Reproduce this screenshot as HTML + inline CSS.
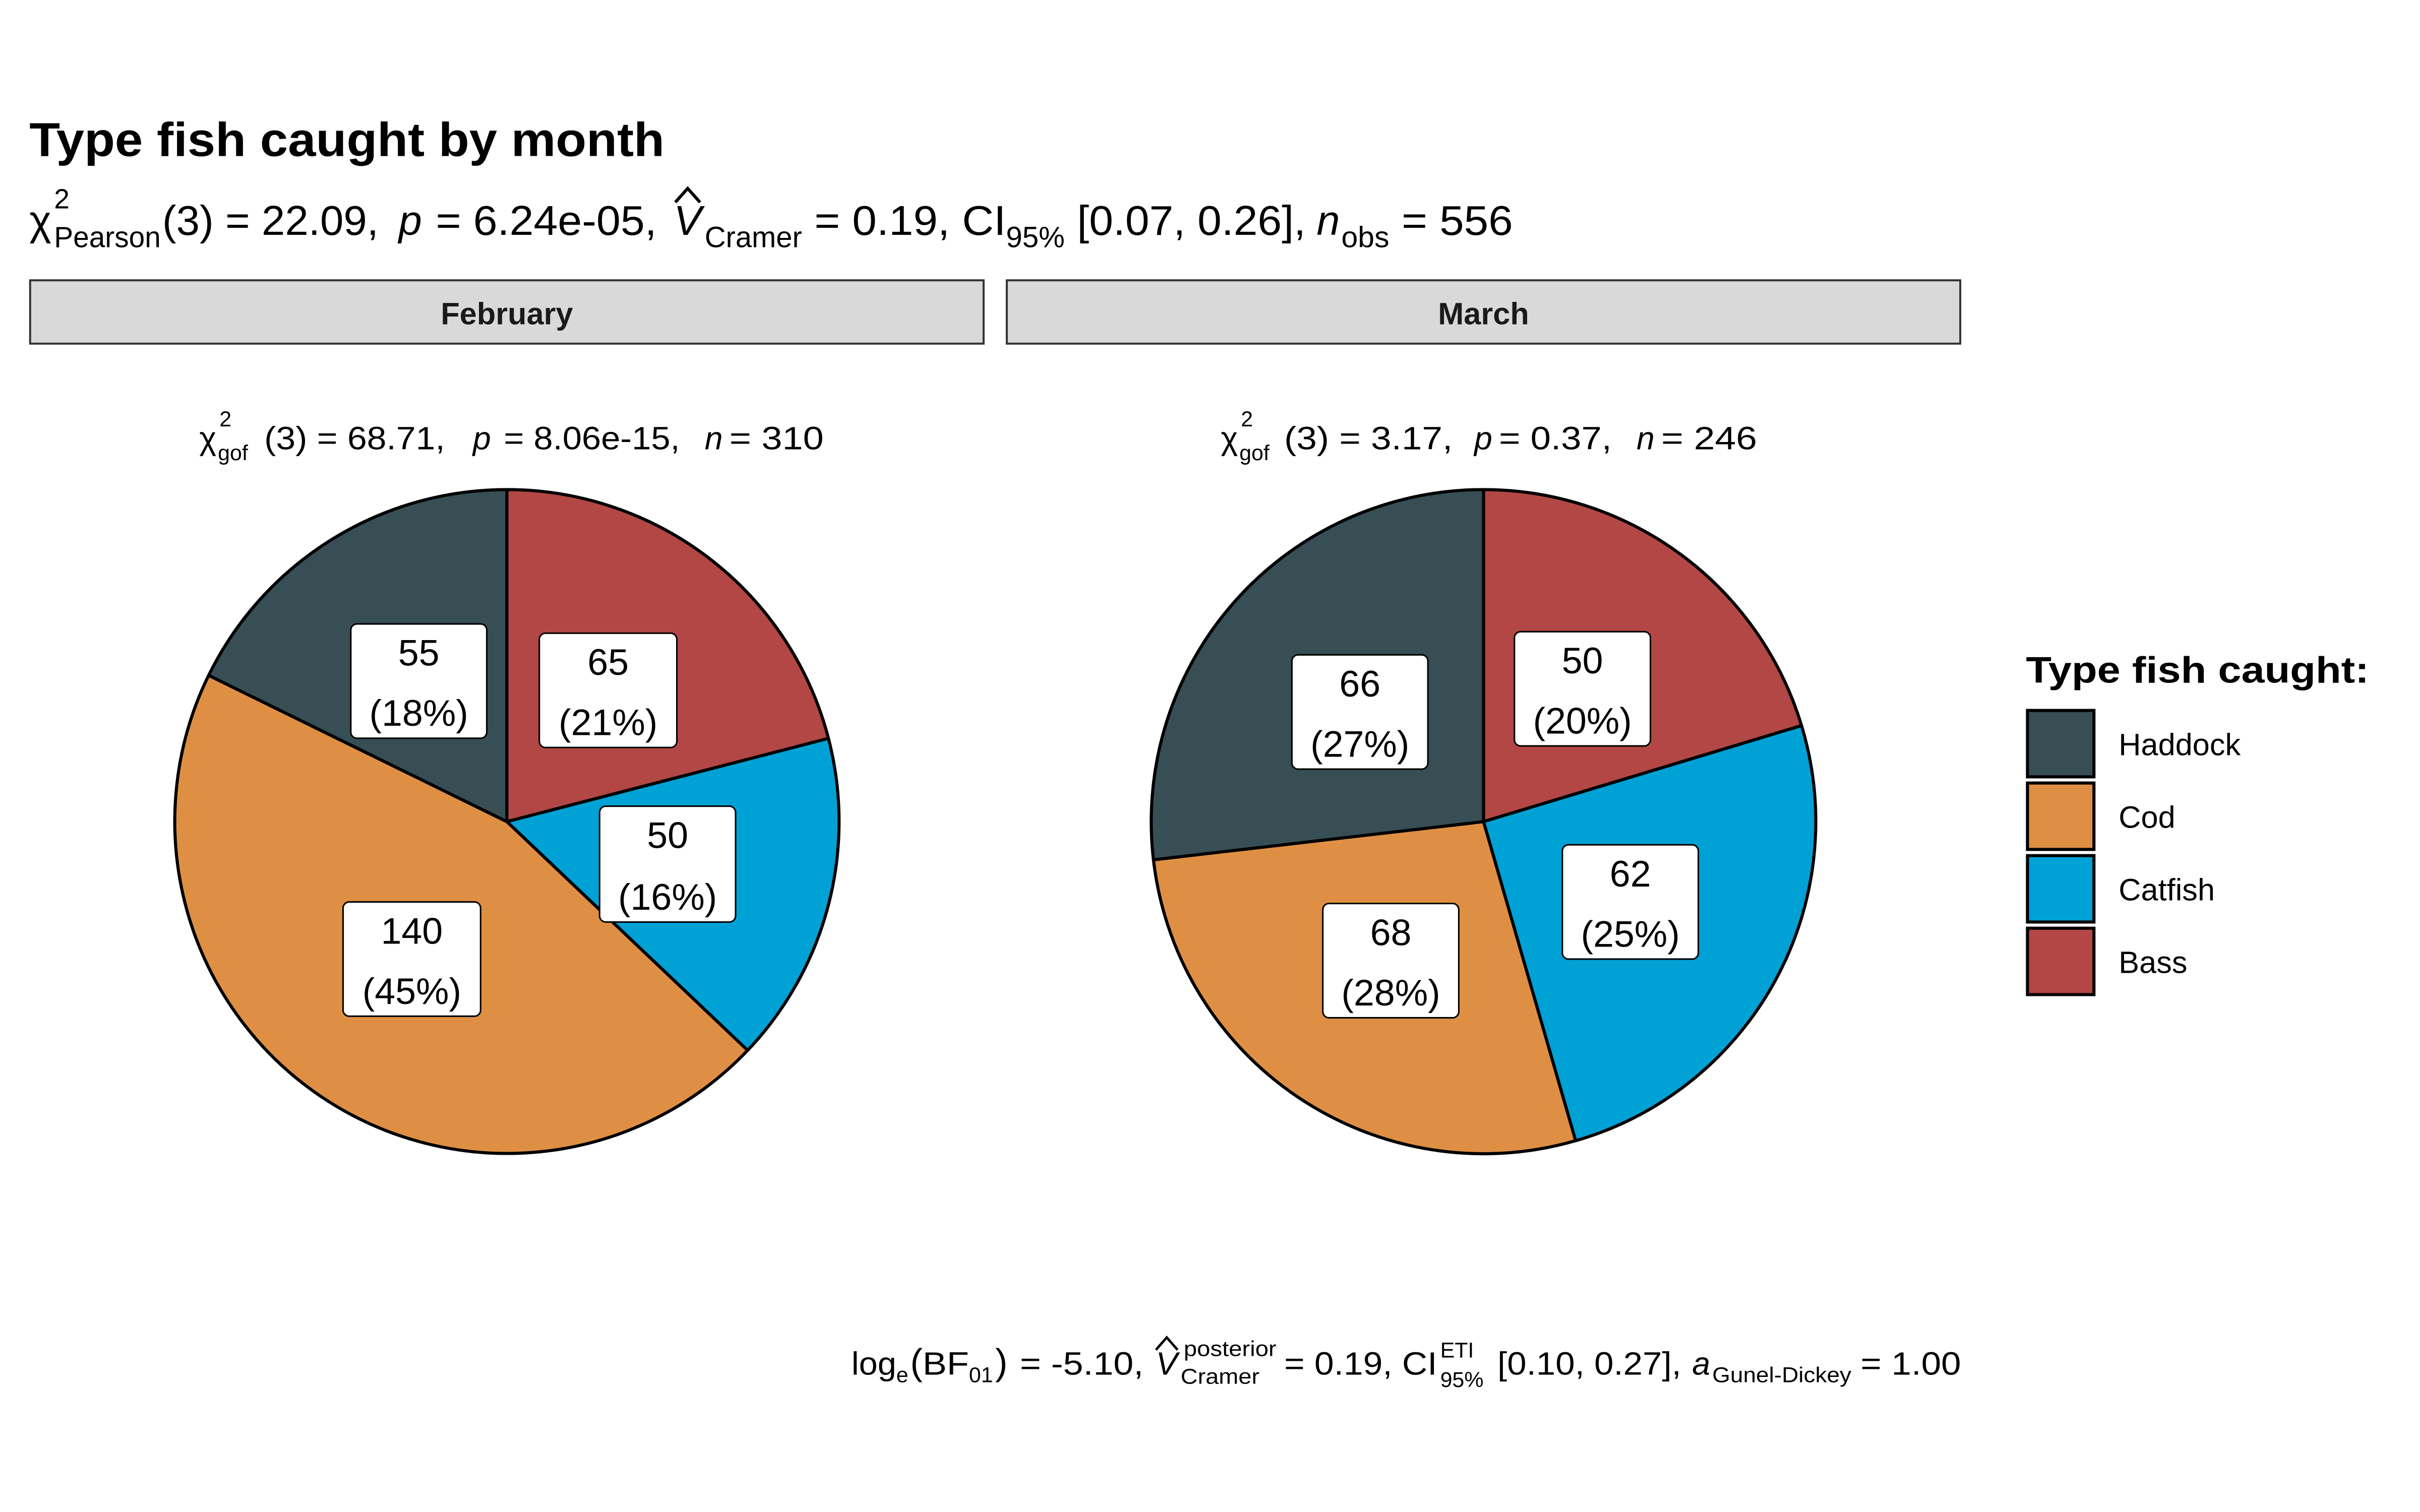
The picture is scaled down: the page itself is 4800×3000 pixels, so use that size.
<!DOCTYPE html>
<html><head><meta charset="utf-8"><style>html,body{margin:0;padding:0;background:#fff}svg{display:block}</style></head>
<body>
<svg width="4800" height="3000" viewBox="0 0 1566 979" preserveAspectRatio="none" xmlns="http://www.w3.org/2000/svg" font-family="Liberation Sans, Arial, sans-serif">
<rect width="1566" height="979" fill="#fff"/>
<text x="19" y="101" font-size="31" font-weight="bold" textLength="411" lengthAdjust="spacingAndGlyphs">Type fish caught by month</text>

<g font-size="27">
<text x="19" y="152">χ</text>
<text x="35" y="135" font-size="18">2</text>
<text x="35" y="160" font-size="19" textLength="69" lengthAdjust="spacingAndGlyphs">Pearson</text>
<text x="105" y="152" textLength="140" lengthAdjust="spacingAndGlyphs">(3) = 22.09,</text>
<text x="258" y="152" font-style="italic">p</text>
<text x="282" y="152" textLength="143" lengthAdjust="spacingAndGlyphs">= 6.24e-05,</text>
<text x="436" y="152" font-style="italic">V</text>
<text x="456" y="160" font-size="19" textLength="63" lengthAdjust="spacingAndGlyphs">Cramer</text>
<text x="527" y="152" textLength="124" lengthAdjust="spacingAndGlyphs">= 0.19, CI</text>
<text x="651" y="160" font-size="19" textLength="38" lengthAdjust="spacingAndGlyphs">95%</text>
<text x="697" y="152" textLength="148" lengthAdjust="spacingAndGlyphs">[0.07, 0.26],</text>
<text x="852" y="152" font-style="italic">n</text>
<text x="868" y="160" font-size="19" textLength="31" lengthAdjust="spacingAndGlyphs">obs</text>
<text x="907" y="152" textLength="72" lengthAdjust="spacingAndGlyphs">= 556</text>
</g>
<path d="M437 131 L445 122 L453 131" fill="none" stroke="#000" stroke-width="2"/>

<rect x="19.5" y="181.5" width="617" height="41" fill="#d9d9d9" stroke="#333" stroke-width="1.3"/>
<text x="328" y="210" font-size="20" font-weight="bold" text-anchor="middle" fill="#1a1a1a">February</text>
<rect x="651.5" y="181.5" width="617" height="41" fill="#d9d9d9" stroke="#333" stroke-width="1.3"/>
<text x="960" y="210" font-size="20" font-weight="bold" text-anchor="middle" fill="#1a1a1a">March</text>

<g font-size="21">
<text x="129" y="291">χ</text>
<text x="142" y="276" font-size="14">2</text>
<text x="141" y="298" font-size="14">gof</text>
<text x="171" y="291" textLength="117" lengthAdjust="spacingAndGlyphs">(3) = 68.71,</text>
<text x="306" y="291" font-style="italic">p</text>
<text x="326" y="291" textLength="114" lengthAdjust="spacingAndGlyphs">= 8.06e-15,</text>
<text x="456" y="291" font-style="italic">n</text>
<text x="472" y="291" textLength="61" lengthAdjust="spacingAndGlyphs">= 310</text>
<text x="790" y="291">χ</text>
<text x="803" y="276" font-size="14">2</text>
<text x="802" y="298" font-size="14">gof</text>
<text x="831" y="291" textLength="109" lengthAdjust="spacingAndGlyphs">(3) = 3.17,</text>
<text x="954" y="291" font-style="italic">p</text>
<text x="970" y="291" textLength="73" lengthAdjust="spacingAndGlyphs">= 0.37,</text>
<text x="1059" y="291" font-style="italic">n</text>
<text x="1075" y="291" textLength="62" lengthAdjust="spacingAndGlyphs">= 246</text>
</g>

<g stroke="#000" stroke-width="2" stroke-linejoin="round">
<path d="M328 532 L328 317 A215 215 0 0 1 536.1 478.1 Z" fill="#B24745"/>
<path d="M328 532 L536.1 478.1 A215 215 0 0 1 483.8 680.1 Z" fill="#00A1D5"/>
<path d="M328 532 L483.8 680.1 A215 215 0 0 1 135.0 437.3 Z" fill="#DF8F44"/>
<path d="M328 532 L135.0 437.3 A215 215 0 0 1 328 317 Z" fill="#374E55"/>
<path d="M960 532 L960 317 A215 215 0 0 1 1165.8 469.8 Z" fill="#B24745"/>
<path d="M960 532 L1165.8 469.8 A215 215 0 0 1 1019.6 738.6 Z" fill="#00A1D5"/>
<path d="M960 532 L1019.6 738.6 A215 215 0 0 1 746.4 556.7 Z" fill="#DF8F44"/>
<path d="M960 532 L746.4 556.7 A215 215 0 0 1 960 317 Z" fill="#374E55"/>
</g>

<g font-size="24" text-anchor="middle">
<rect x="227" y="404" width="88" height="74" rx="4" fill="#fff" stroke="#000"/>
<text x="271" y="431">55</text><text x="271" y="470">(18%)</text>
<rect x="349" y="410" width="89" height="74" rx="4" fill="#fff" stroke="#000"/>
<text x="393.5" y="437">65</text><text x="393.5" y="476">(21%)</text>
<rect x="388" y="522" width="88" height="75" rx="4" fill="#fff" stroke="#000"/>
<text x="432" y="549">50</text><text x="432" y="589">(16%)</text>
<rect x="222" y="584" width="89" height="74" rx="4" fill="#fff" stroke="#000"/>
<text x="266.5" y="611">140</text><text x="266.5" y="650">(45%)</text>
<rect x="836" y="424" width="88" height="74" rx="4" fill="#fff" stroke="#000"/>
<text x="880" y="451">66</text><text x="880" y="490">(27%)</text>
<rect x="980" y="409" width="88" height="74" rx="4" fill="#fff" stroke="#000"/>
<text x="1024" y="436">50</text><text x="1024" y="475">(20%)</text>
<rect x="1011" y="547" width="88" height="74" rx="4" fill="#fff" stroke="#000"/>
<text x="1055" y="574">62</text><text x="1055" y="613">(25%)</text>
<rect x="856" y="585" width="88" height="74" rx="4" fill="#fff" stroke="#000"/>
<text x="900" y="612">68</text><text x="900" y="651">(28%)</text>
</g>

<text x="1311" y="442" font-size="24" font-weight="bold" textLength="222" lengthAdjust="spacingAndGlyphs">Type fish caught:</text>
<g stroke="#000" stroke-width="2">
<rect x="1312" y="460" width="43" height="43" fill="#374E55"/>
<rect x="1312" y="507" width="43" height="43" fill="#DF8F44"/>
<rect x="1312" y="554" width="43" height="43" fill="#00A1D5"/>
<rect x="1312" y="601" width="43" height="43" fill="#B24745"/>
</g>
<g font-size="20">
<text x="1371" y="489">Haddock</text>
<text x="1371" y="536">Cod</text>
<text x="1371" y="583">Catfish</text>
<text x="1371" y="630">Bass</text>
</g>

<g font-size="21">
<text x="551" y="890" textLength="29" lengthAdjust="spacingAndGlyphs">log</text>
<text x="580" y="895" font-size="14">e</text>
<text x="589" y="890" font-size="24">(</text>
<text x="597" y="890" textLength="30" lengthAdjust="spacingAndGlyphs">BF</text>
<text x="627" y="895" font-size="14">01</text>
<text x="644" y="890" font-size="24">)</text>
<text x="660" y="890" textLength="80" lengthAdjust="spacingAndGlyphs">= -5.10,</text>
<text x="748" y="890" font-style="italic">V</text>
<text x="766" y="878" font-size="14" textLength="60" lengthAdjust="spacingAndGlyphs">posterior</text>
<text x="764" y="896" font-size="14" textLength="51" lengthAdjust="spacingAndGlyphs">Cramer</text>
<text x="831" y="890" textLength="99" lengthAdjust="spacingAndGlyphs">= 0.19, CI</text>
<text x="932" y="879" font-size="14">ETI</text>
<text x="932" y="898" font-size="14">95%</text>
<text x="969" y="890" textLength="119" lengthAdjust="spacingAndGlyphs">[0.10, 0.27],</text>
<text x="1095" y="890" font-style="italic">a</text>
<text x="1108" y="895" font-size="14" textLength="90" lengthAdjust="spacingAndGlyphs">Gunel-Dickey</text>
<text x="1204" y="890" textLength="65" lengthAdjust="spacingAndGlyphs">= 1.00</text>
</g>
<path d="M748 874 L755 866 L762 874" fill="none" stroke="#000" stroke-width="1.6"/>
</svg>
</body></html>
